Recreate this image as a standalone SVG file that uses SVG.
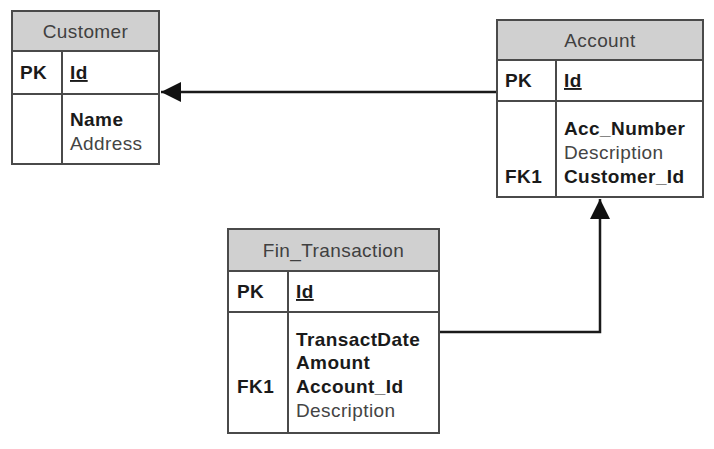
<svg xmlns="http://www.w3.org/2000/svg" width="714" height="449" viewBox="0 0 714 449">
<defs>
<style>
.box{fill:#fff;stroke:#4a4a4a;stroke-width:2}
.hdr{fill:#d0d0d0;stroke:#4a4a4a;stroke-width:2}
.ln{stroke:#4a4a4a;stroke-width:2;fill:none}
text{font-family:"Liberation Sans",Arial,sans-serif;font-size:19px;letter-spacing:0.4px}
.title{fill:#404040;text-anchor:middle}
.b{font-weight:bold;fill:#1a1a1a}
.r{fill:#444}
.u{text-decoration:underline}
.conn{stroke:#1a1a1a;stroke-width:2.5;fill:none}
</style>
<marker id="ah" viewBox="0 0 20 20" refX="20" refY="10" markerWidth="20" markerHeight="20" markerUnits="userSpaceOnUse" orient="auto">
<path d="M0,0 L20,10 L0,20 Z" fill="#111"/>
</marker>
</defs>
<g id="connectors">
<path class="conn" d="M497,92 L161,92" marker-end="url(#ah)"/>
<path class="conn" d="M439,332 L600,332 L600,199" marker-end="url(#ah)"/>
</g>
<g id="customer">
<rect class="box" x="12" y="11" width="147" height="153"/>
<rect class="hdr" x="12" y="11" width="147" height="40"/>
<line class="ln" x1="12" y1="94" x2="159" y2="94"/>
<line class="ln" x1="62" y1="51" x2="62" y2="164"/>
<text class="title" x="85.5" y="38">Customer</text>
<text class="b" x="20" y="79">PK</text>
<text class="b u" x="70" y="79">Id</text>
<text class="b" x="70" y="126">Name</text>
<text class="r" x="70" y="150">Address</text>
</g>
<g id="account">
<rect class="box" x="497" y="20" width="206" height="177"/>
<rect class="hdr" x="497" y="20" width="206" height="40"/>
<line class="ln" x1="497" y1="101" x2="703" y2="101"/>
<line class="ln" x1="556" y1="60" x2="556" y2="197"/>
<text class="title" x="600" y="47">Account</text>
<text class="b" x="505" y="87">PK</text>
<text class="b u" x="564" y="87">Id</text>
<text class="b" x="564" y="135">Acc_Number</text>
<text class="r" x="564" y="159">Description</text>
<text class="b" x="505" y="183">FK1</text>
<text class="b" x="564" y="183">Customer_Id</text>
</g>
<g id="fin_transaction">
<rect class="box" x="228" y="229" width="211" height="204"/>
<rect class="hdr" x="228" y="229" width="211" height="42"/>
<line class="ln" x1="228" y1="312" x2="439" y2="312"/>
<line class="ln" x1="288" y1="271" x2="288" y2="433"/>
<text class="title" x="333.5" y="257">Fin_Transaction</text>
<text class="b" x="237" y="298">PK</text>
<text class="b u" x="296" y="298">Id</text>
<text class="b" x="296" y="346">TransactDate</text>
<text class="b" x="296" y="369">Amount</text>
<text class="b" x="237" y="393">FK1</text>
<text class="b" x="296" y="393">Account_Id</text>
<text class="r" x="296" y="417">Description</text>
</g>
</svg>
